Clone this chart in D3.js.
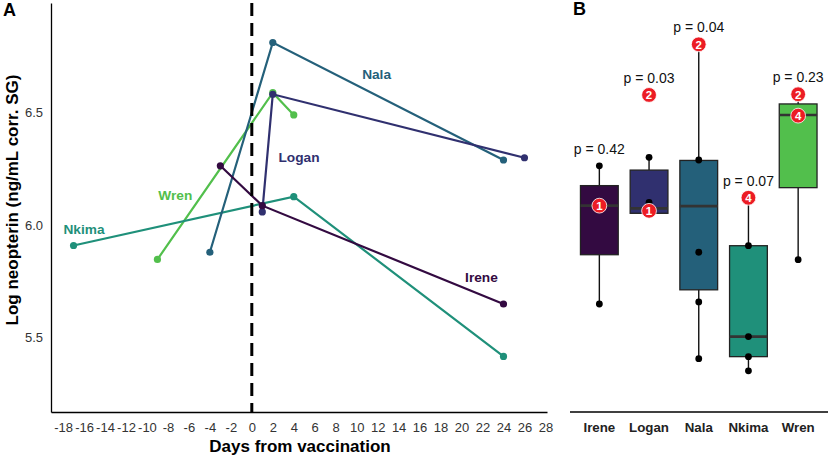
<!DOCTYPE html>
<html>
<head>
<meta charset="utf-8">
<script src="https://cdn.jsdelivr.net/npm/d3@7"></script>
<style>
  body { margin: 0; background: #fff; }
  svg { display: block; font-family: "Liberation Sans", Arial, sans-serif; }
</style>
</head>
<body>
<svg id="chart" width="829" height="456"></svg>
<script>
// animals and colours
const animals = ["Irene", "Logan", "Nala", "Nkima", "Wren"];
const animalColors = ["#330a41", "#30306f", "#24607a", "#1f907a", "#52bf4c"];

// panel A: days from vaccination and log neopterin per animal
const ireneDays = [-3, 1, 24];
const ireneLog = [6.264, 6.087, 5.650];
const loganDays = [1, 2, 26];
const loganLog = [6.059, 6.582, 6.300];
const nalaDays = [-4, 2, 24];
const nalaLog = [5.880, 6.812, 6.290];
const nkimaDays = [-17, 4, 24];
const nkimaLog = [5.910, 6.127, 5.417];
const wrenDays = [-9, 2, 4];
const wrenLog = [5.848, 6.589, 6.490];

// name label anchors (day, log value)
const labelDays = [21.9, 4.5, 11.9, -16.0, -7.3];
const labelLog = [5.768, 6.300, 6.672, 5.980, 6.131];

const dayTicks = d3.range(-18, 29, 2);
const logTicks = [5.5, 6.0, 6.5];

// panel B: box statistics
const boxLow = [5.650, 6.053, 5.407, 5.353, 5.847];
const boxQ1 = [5.869, 6.053, 5.713, 5.416, 6.167];
const boxMed = [6.087, 6.075, 6.085, 5.505, 6.490];
const boxQ3 = [6.176, 6.245, 6.288, 5.909, 6.539];
const boxHigh = [6.264, 6.302, 6.804, 6.122, 6.582];

// black sample points
const blackPts = [
  [6.264, 6.087, 5.650],
  [6.302, 6.102],
  [6.290, 5.880, 5.659, 5.407],
  [5.909, 5.505, 5.416, 5.353],
  [5.847]
];
// red numbered samples
const redVals = [[6.087], [6.579, 6.064], [6.804], [6.122], [6.582, 6.487]];
const redNums = [["1"], ["2", "1"], ["2"], ["4"], ["2", "4"]];

const pValues = ["0.42", "0.03", "0.04", "0.07", "0.23"];

const svg = d3.select("#chart");

// shared y scale
const y = d3.scaleLinear().domain([5.170, 6.9876]).range([412, 3]);
const x = d3.scaleLinear().domain([-19.15, 28.15]).range([51, 547]);

// ---------- Panel A ----------
const gA = svg.append("g");

// plain hyphen for negative ticks, like the original
const xAxis = d3.axisBottom(x).tickValues(dayTicks).tickFormat(d => String(d))
  .tickSize(0).tickSizeOuter(0).tickPadding(11);
gA.append("g").attr("transform", "translate(0,412)").call(xAxis)
  .call(g => g.select(".domain").attr("stroke", "#000").attr("stroke-width", 1.3))
  .call(g => g.selectAll("text").attr("font-size", 13).attr("fill", "#333")
    .attr("font-family", "Liberation Sans, Arial, sans-serif"));

const yAxis = d3.axisLeft(y).tickValues(logTicks).tickFormat(d3.format(".1f"))
  .tickSize(0).tickSizeOuter(0).tickPadding(8);
gA.append("g").attr("transform", "translate(51,0)").call(yAxis)
  .call(g => g.select(".domain").attr("stroke", "#000").attr("stroke-width", 1.3))
  .call(g => g.selectAll("text").attr("font-size", 13).attr("fill", "#333")
    .attr("font-family", "Liberation Sans, Arial, sans-serif"));

const seriesDays = [ireneDays, loganDays, nalaDays, nkimaDays, wrenDays];
const seriesLog = [ireneLog, loganLog, nalaLog, nkimaLog, wrenLog];
const series = animals.map((name, i) => ({
  name, color: animalColors[i],
  pts: seriesDays[i].map((d, j) => ({ day: d, v: seriesLog[i][j] }))
}));

const line = d3.line().x(d => x(d.day)).y(d => y(d.v));

// draw in reverse so Irene ends on top
series.slice().reverse().forEach(s => {
  gA.append("path").datum(s.pts)
    .attr("d", line).attr("fill", "none")
    .attr("stroke", s.color).attr("stroke-width", 2.2);
  gA.selectAll(null).data(s.pts).enter().append("circle")
    .attr("cx", d => x(d.day)).attr("cy", d => y(d.v))
    .attr("r", 3.6).attr("fill", s.color);
});

gA.selectAll(".name-label").data(series).enter().append("text")
  .attr("class", "name-label")
  .attr("x", (d, i) => x(labelDays[i])).attr("y", (d, i) => y(labelLog[i]))
  .attr("text-anchor", "middle").attr("dominant-baseline", "central")
  .attr("font-size", 13.7).attr("font-weight", "bold")
  .attr("fill", d => d.color).text(d => d.name);

// vaccination day
gA.append("line")
  .attr("x1", x(0)).attr("x2", x(0)).attr("y1", 3).attr("y2", 412)
  .attr("stroke", "#000").attr("stroke-width", 3).attr("stroke-dasharray", "13,7");

gA.append("text").attr("x", 300).attr("y", 451.5)
  .attr("text-anchor", "middle").attr("font-size", 17).attr("font-weight", "bold")
  .text("Days from vaccination");

gA.append("text")
  .attr("transform", "translate(12,200) rotate(-90)")
  .attr("text-anchor", "middle").attr("dominant-baseline", "central")
  .attr("font-size", 17).attr("font-weight", "bold")
  .text("Log neopterin (ng/mL corr. SG)");

svg.append("text").attr("x", 3).attr("y", 16).attr("font-size", 18).attr("font-weight", "bold").text("A");

// ---------- Panel B ----------
const gB = svg.append("g");
const xb = d3.scaleBand().domain(animals).range([574.5, 823]).padding(0);
const bw = xb.bandwidth() * 0.76;
const cx = name => xb(name) + xb.bandwidth() / 2;

gB.append("line").attr("x1", 570).attr("x2", 828).attr("y1", 412).attr("y2", 412)
  .attr("stroke", "#000").attr("stroke-width", 1.3);

gB.selectAll(".cat").data(animals).enter().append("text")
  .attr("x", d => cx(d)).attr("y", 431.5)
  .attr("text-anchor", "middle").attr("font-size", 13.3).attr("font-weight", "bold")
  .attr("fill", "#222").text(d => d);

animals.forEach((name, i) => {
  const c = cx(name);
  // whiskers
  gB.append("line").attr("x1", c).attr("x2", c)
    .attr("y1", y(boxHigh[i])).attr("y2", y(boxQ3[i]))
    .attr("stroke", "#111").attr("stroke-width", 1.4);
  gB.append("line").attr("x1", c).attr("x2", c)
    .attr("y1", y(boxQ1[i])).attr("y2", y(boxLow[i]))
    .attr("stroke", "#111").attr("stroke-width", 1.4);
  // box
  gB.append("rect")
    .attr("x", c - bw / 2).attr("width", bw)
    .attr("y", y(boxQ3[i])).attr("height", y(boxQ1[i]) - y(boxQ3[i]))
    .attr("fill", animalColors[i]).attr("stroke", "#222").attr("stroke-width", 1.3);
  gB.append("line").attr("x1", c - bw / 2).attr("x2", c + bw / 2)
    .attr("y1", y(boxMed[i])).attr("y2", y(boxMed[i]))
    .attr("stroke", "#333").attr("stroke-width", 2.6);
  // sample points
  gB.selectAll(null).data(blackPts[i]).enter().append("circle")
    .attr("cx", c).attr("cy", d => y(d)).attr("r", 3.4).attr("fill", "#000");
  // numbered red markers
  const reds = redVals[i].map((v, j) => ({ v, n: redNums[i][j] }));
  const rg = gB.selectAll(null).data(reds).enter().append("g")
    .attr("transform", d => `translate(${c},${y(d.v)})`);
  rg.append("circle").attr("r", 7.4).attr("fill", "#ec1c24")
    .attr("stroke", "#fff").attr("stroke-width", 0.8);
  rg.append("text").attr("text-anchor", "middle").attr("dominant-baseline", "central")
    .attr("y", 0.5).attr("font-size", 11.5).attr("font-weight", "bold").attr("fill", "#fff")
    .text(d => d.n);
  // p label above the highest mark
  const top = d3.max([boxHigh[i], ...redVals[i]]);
  gB.append("text").attr("x", c).attr("y", y(top) - 12)
    .attr("text-anchor", "middle").attr("font-size", 14).attr("fill", "#111")
    .text("p = " + pValues[i]);
});

svg.append("text").attr("x", 573).attr("y", 15).attr("font-size", 18).attr("font-weight", "bold").text("B");
</script>
</body>
</html>
